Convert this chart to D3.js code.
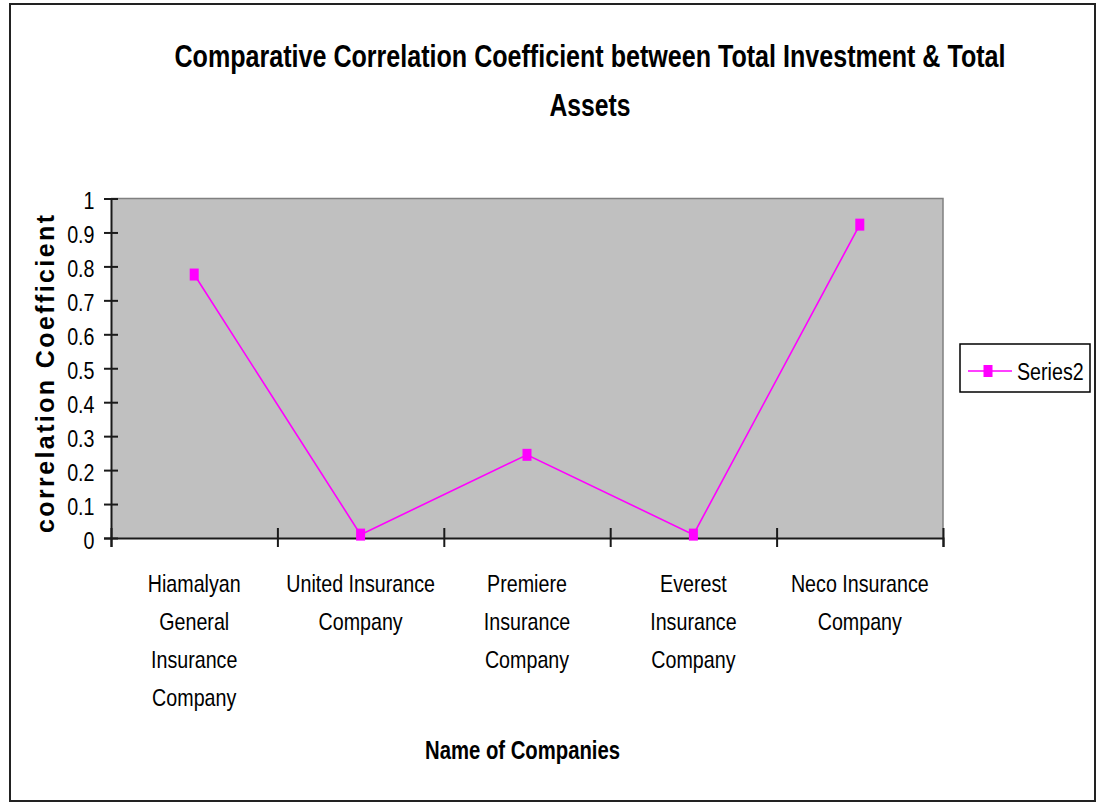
<!DOCTYPE html>
<html>
<head>
<meta charset="utf-8">
<script src="https://cdn.jsdelivr.net/npm/d3@7"></script>
<style>
  html, body { margin: 0; padding: 0; background: #fff; }
  svg { display: block; }
</style>
</head>
<body>
<svg id="chart" width="1096" height="802"></svg>
<script>
// ---- data ----
const categories = [
  "Hiamalyan\nGeneral\nInsurance\nCompany",
  "United Insurance\nCompany",
  "Premiere\nInsurance\nCompany",
  "Everest\nInsurance\nCompany",
  "Neco Insurance\nCompany"
];
const seriesName = "Series2";
const values = [0.776, 0.01, 0.245, 0.01, 0.923];
const yTicks = [0, 0.1, 0.2, 0.3, 0.4, 0.5, 0.6, 0.7, 0.8, 0.9, 1];
const titleLines = ["Comparative Correlation Coefficient between Total Investment & Total", "Assets"];
const xTitle = "Name of Companies";
const yTitle = "correlation  Coefficient";

// ---- layout ----
const NARROW = "'Liberation Sans Narrow', 'Arial Narrow', 'Liberation Sans', Arial, sans-serif";
const WIDE = "'Liberation Sans', Arial, sans-serif";
const plot = { left: 111, right: 943, top: 198.5, bottom: 538 };
const magenta = "#FF00FF";

const svg = d3.select("#chart");

// detect whether a real narrow face exists; otherwise compress horizontally
function measure(fam) {
  const t = svg.append("text").attr("font-family", fam).attr("font-size", 24).text("Neco Insurance Company");
  const w = t.node().getComputedTextLength();
  t.remove();
  return w;
}
const K = (measure(NARROW) / measure(WIDE) < 0.9) ? 1 : 0.82;

// outer frame
svg.append("rect").attr("x", 10).attr("y", 4).attr("width", 1085).attr("height", 797)
  .attr("fill", "#fff").attr("stroke", "#222").attr("stroke-width", 2);

const x = d3.scaleBand().domain(categories).range([plot.left, plot.right]).padding(0);
const xEdge = d3.scaleLinear().domain([0, categories.length]).range([plot.left, plot.right]);
const y = d3.scaleLinear().domain([0, 1]).range([plot.bottom, plot.top]);

// plot area background
svg.append("rect").attr("x", plot.left).attr("y", plot.top)
  .attr("width", plot.right - plot.left).attr("height", plot.bottom - plot.top)
  .attr("fill", "#C0C0C0").attr("stroke", "none");
svg.append("path")
  .attr("d", `M${plot.left},${plot.top}H${plot.right}V${plot.bottom}`)
  .attr("fill", "none").attr("stroke", "#808080").attr("stroke-width", 1.5);

// y axis
const yAxis = d3.axisLeft(y).tickValues(yTicks).tickSize(7).tickPadding(0)
  .tickFormat(d => (d === 0 || d === 1) ? String(d) : d3.format(".1f")(d));
const gy = svg.append("g").attr("transform", `translate(${plot.left},0)`).call(yAxis);
gy.select(".domain").attr("stroke", "#1a1a1a").attr("stroke-width", 2);
gy.selectAll(".tick line").attr("x1", 7).attr("x2", -7).attr("stroke", "#1a1a1a").attr("stroke-width", 2);
gy.selectAll(".tick text").attr("x", 0).attr("dy", "10px")
  .attr("transform", `translate(-16.5,0) scale(${K},1)`)
  .attr("font-family", NARROW).attr("font-size", 24).attr("fill", "#000");

// x axis (ticks at category boundaries)
const xAxis = d3.axisBottom(xEdge).tickValues(d3.range(categories.length + 1)).tickSize(9).tickFormat("");
const gx = svg.append("g").attr("transform", `translate(0,${plot.bottom})`).call(xAxis);
gx.select(".domain").attr("stroke", "#1a1a1a").attr("stroke-width", 2);
gx.selectAll(".tick line").attr("y1", -10).attr("y2", 9).attr("stroke", "#1a1a1a").attr("stroke-width", 2);

// category labels
const catG = svg.append("g");
categories.forEach(c => {
  const t = catG.append("text")
    .attr("transform", `translate(${x(c) + x.bandwidth() / 2},0) scale(${K},1)`)
    .attr("text-anchor", "middle")
    .attr("font-family", NARROW).attr("font-size", 24).attr("fill", "#000");
  c.split("\n").forEach((line, i) => {
    t.append("tspan").attr("x", 0).attr("y", 592 + i * 38).text(line);
  });
});

// series line
const pts = categories.map((c, i) => [x(c) + x.bandwidth() / 2, y(values[i])]);
svg.append("path").datum(pts)
  .attr("d", d3.line())
  .attr("fill", "none").attr("stroke", magenta).attr("stroke-width", 1.6);
svg.selectAll("rect.marker").data(pts).join("rect").attr("class", "marker")
  .attr("x", d => d[0] - 4.5).attr("y", d => d[1] - 6)
  .attr("width", 9).attr("height", 12).attr("fill", magenta);

// title
titleLines.forEach((line, i) => {
  svg.append("text")
    .attr("transform", `translate(590,${67 + i * 49}) scale(${K},1)`)
    .attr("text-anchor", "middle")
    .attr("font-family", NARROW).attr("font-weight", "bold").attr("font-size", 32)
    .attr("textLength", (i === 0 ? 831 : 81) / K).attr("lengthAdjust", "spacingAndGlyphs")
    .attr("fill", "#000").text(line);
});

// x axis title
svg.append("text")
  .attr("transform", `translate(522.5,759) scale(${K},1)`)
  .attr("text-anchor", "middle")
  .attr("font-family", NARROW).attr("font-weight", "bold").attr("font-size", 26)
  .attr("textLength", 195 / K).attr("lengthAdjust", "spacingAndGlyphs")
  .attr("fill", "#000").text(xTitle);

// y axis title
svg.append("text").attr("transform", "translate(54,374) rotate(-90)")
  .attr("text-anchor", "middle")
  .attr("font-family", WIDE).attr("font-weight", "bold").attr("font-size", 25)
  .attr("textLength", 318).attr("lengthAdjust", "spacing")
  .attr("fill", "#000").text(yTitle);

// legend
const lg = svg.append("g");
lg.append("rect").attr("x", 960).attr("y", 344).attr("width", 130).attr("height", 48)
  .attr("fill", "#fff").attr("stroke", "#000").attr("stroke-width", 1.5);
lg.append("line").attr("x1", 968).attr("x2", 1012).attr("y1", 371).attr("y2", 371)
  .attr("stroke", magenta).attr("stroke-width", 1.6);
lg.append("rect").attr("x", 988 - 4.5).attr("y", 371 - 6).attr("width", 9).attr("height", 12).attr("fill", magenta);
lg.append("text").attr("transform", `translate(1017,379.5) scale(${K},1)`)
  .attr("font-family", NARROW).attr("font-size", 24).attr("fill", "#000").text(seriesName);
</script>
</body>
</html>
